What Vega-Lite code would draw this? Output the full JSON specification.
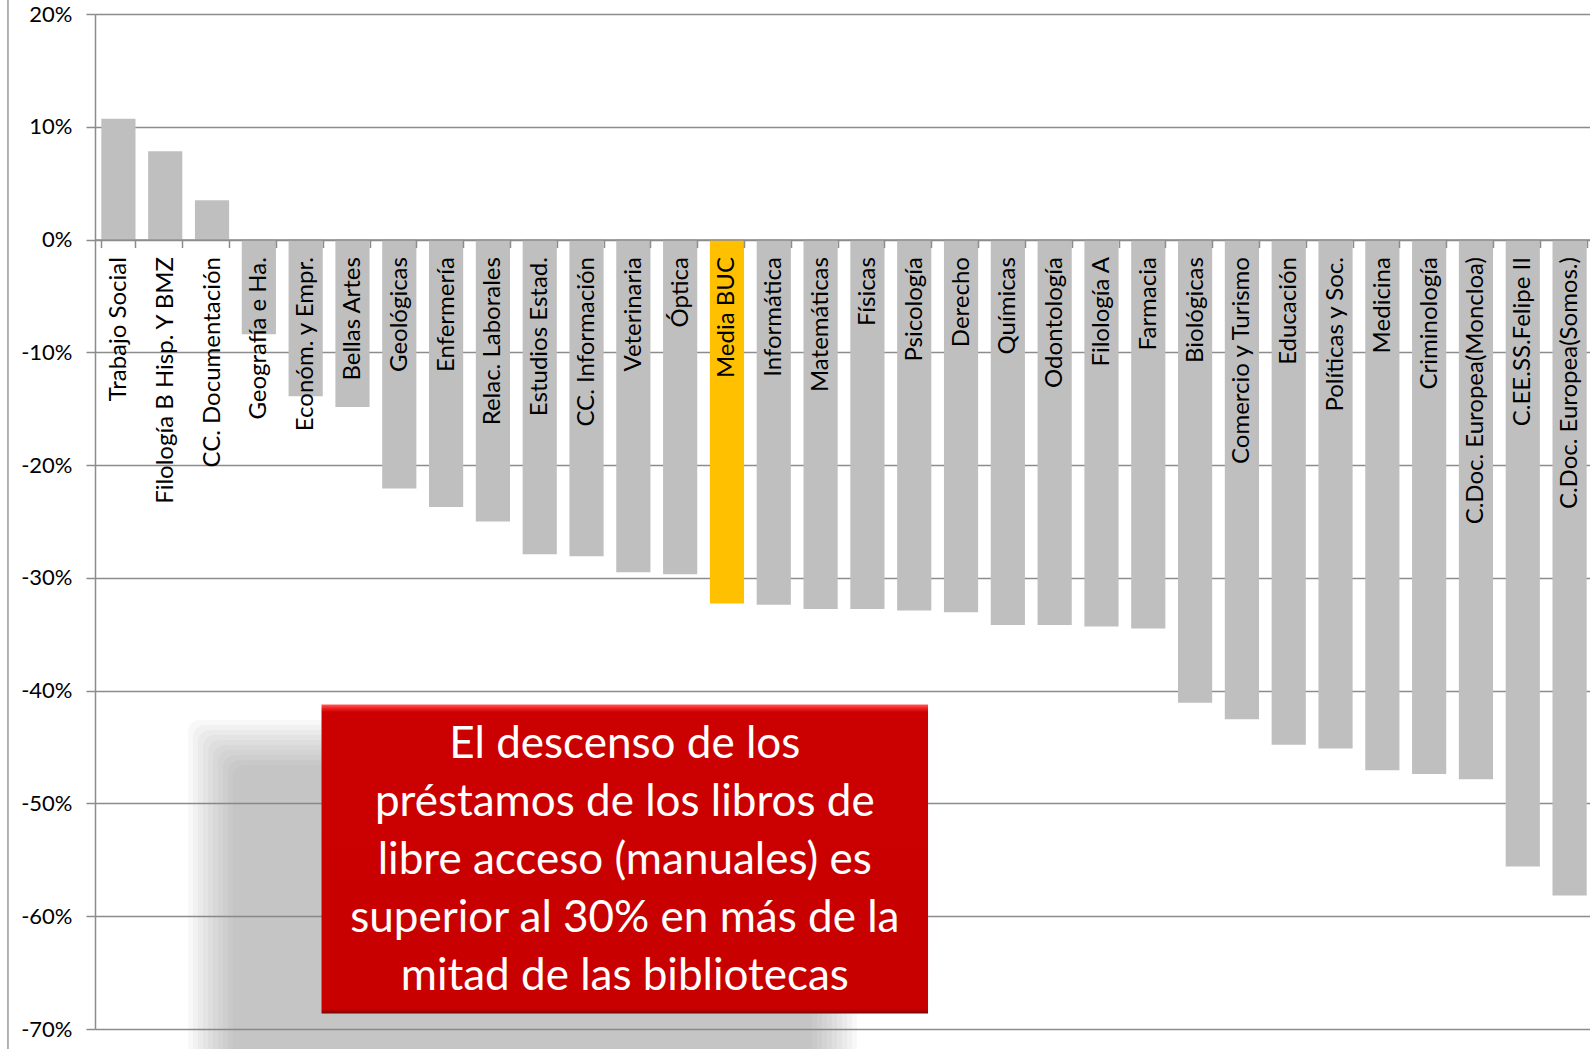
{
  "$schema": "https://vega.github.io/schema/vega-lite/v6.json",
  "width": 1495,
  "height": 1015,
  "autosize": "none",
  "padding": {"left": 95, "top": 14, "right": 0, "bottom": 20},
  "background": "white",
  "config": {"view": {"stroke": null}, "font": "Lato"},
  "datasets": {
    "bars": [
      {"cat": "Trabajo Social", "v": 0.1072},
      {"cat": "Filología B Hisp. Y BMZ", "v": 0.0782},
      {"cat": "CC. Documentación", "v": 0.0348},
      {"cat": "Geografía e Ha.", "v": -0.0840},
      {"cat": "Económ. y Empr.", "v": -0.1390},
      {"cat": "Bellas Artes", "v": -0.1484},
      {"cat": "Geológicas", "v": -0.2208},
      {"cat": "Enfermería", "v": -0.2371},
      {"cat": "Relac. Laborales", "v": -0.2501},
      {"cat": "Estudios Estad.", "v": -0.2791},
      {"cat": "CC. Información", "v": -0.2809},
      {"cat": "Veterinaria", "v": -0.2950},
      {"cat": "Óptica", "v": -0.2968},
      {"cat": "Media BUC", "v": -0.3228},
      {"cat": "Informática", "v": -0.3239},
      {"cat": "Matemáticas", "v": -0.3275},
      {"cat": "Físicas", "v": -0.3275},
      {"cat": "Psicología", "v": -0.3290},
      {"cat": "Derecho", "v": -0.3305},
      {"cat": "Químicas", "v": -0.3417},
      {"cat": "Odontología", "v": -0.3417},
      {"cat": "Filología A", "v": -0.3432},
      {"cat": "Farmacia", "v": -0.3449},
      {"cat": "Biológicas", "v": -0.4108},
      {"cat": "Comercio y Turismo", "v": -0.4253},
      {"cat": "Educación", "v": -0.4480},
      {"cat": "Políticas y Soc.", "v": -0.4513},
      {"cat": "Medicina", "v": -0.4706},
      {"cat": "Criminología", "v": -0.4738},
      {"cat": "C.Doc. Europea(Moncloa)", "v": -0.4785},
      {"cat": "C.EE.SS.Felipe II", "v": -0.5560},
      {"cat": "C.Doc. Europea(Somos.)", "v": -0.5817}
    ]
  },
  "layer": [
    {
      "data": {"name": "bars"},
      "mark": {"type": "bar"},
      "encoding": {
        "x": {
          "field": "cat", "type": "nominal", "sort": null,
          "scale": {"range": [0, 1498], "paddingInner": 0.27, "paddingOuter": 0.135},
          "axis": {
            "orient": "bottom", "offset": -789.44, "title": null,
            "tickBand": "extent", "tickSize": 8, "tickColor": "#8c8c8c", "tickWidth": 1.5,
            "domainColor": "#8c8c8c", "domainWidth": 1.5,
            "labelAngle": -90, "labelPadding": 9, "labelFontSize": 24, "labelColor": "#000000",
            "labelFont": "Lato", "labelLimit": 0, "grid": false, "zindex": 1
          }
        },
        "y": {
          "field": "v", "type": "quantitative",
          "scale": {"domain": [-0.7, 0.2], "nice": false, "zero": true},
          "axis": {
            "title": null, "values": [-0.7, -0.6, -0.5, -0.4, -0.3, -0.2, -0.1, 0, 0.1, 0.2],
            "labelExpr": "round(datum.value*100) + '%'",
            "grid": true, "gridColor": "#8c8c8c", "gridWidth": 1.5,
            "domainColor": "#8c8c8c", "domainWidth": 1.5,
            "tickColor": "#8c8c8c", "tickWidth": 1.5, "tickSize": 9,
            "labelPadding": 14, "labelFontSize": 22, "labelColor": "#000000", "labelFont": "Lato"
          }
        },
        "color": {
          "condition": {"test": "datum.cat === 'Media BUC'", "value": "#FFC000"},
          "value": "#BFBFBF"
        }
      }
    },
    {
      "data": {"values": [{}]},
      "layer": [
        {
          "mark": {"type": "rule", "color": "#9a9a9a", "strokeWidth": 1.5},
          "encoding": {
            "x": {"datum": -1.859, "type": "quantitative", "scale": {"domain": [0, 32], "range": [0, 1498], "nice": false, "zero": false}, "axis": null},
            "y": {"datum": 0.25, "type": "quantitative", "scale": {"domain": [-0.7, 0.2], "nice": false}, "title": null},
            "y2": {"datum": -0.76}
          }
        },
        {"mark": {"type": "rect", "color": "#808080", "opacity": 0.06, "cornerRadius": 12},
         "encoding": {"x": {"datum": 1.9867, "type": "quantitative", "axis": null}, "x2": {"datum": 16.278}, "y": {"datum": -0.4260, "type": "quantitative", "title": null}, "y2": {"datum": -0.76}}},
        {"mark": {"type": "rect", "color": "#808080", "opacity": 0.06, "cornerRadius": 12},
         "encoding": {"x": {"datum": 2.0935, "type": "quantitative", "axis": null}, "x2": {"datum": 16.171}, "y": {"datum": -0.4304, "type": "quantitative", "title": null}, "y2": {"datum": -0.76}}},
        {"mark": {"type": "rect", "color": "#808080", "opacity": 0.06, "cornerRadius": 12},
         "encoding": {"x": {"datum": 2.2003, "type": "quantitative", "axis": null}, "x2": {"datum": 16.064}, "y": {"datum": -0.4349, "type": "quantitative", "title": null}, "y2": {"datum": -0.76}}},
        {"mark": {"type": "rect", "color": "#808080", "opacity": 0.06, "cornerRadius": 12},
         "encoding": {"x": {"datum": 2.3071, "type": "quantitative", "axis": null}, "x2": {"datum": 15.957}, "y": {"datum": -0.4393, "type": "quantitative", "title": null}, "y2": {"datum": -0.76}}},
        {"mark": {"type": "rect", "color": "#808080", "opacity": 0.06, "cornerRadius": 12},
         "encoding": {"x": {"datum": 2.4139, "type": "quantitative", "axis": null}, "x2": {"datum": 15.850}, "y": {"datum": -0.4437, "type": "quantitative", "title": null}, "y2": {"datum": -0.76}}},
        {"mark": {"type": "rect", "color": "#808080", "opacity": 0.06, "cornerRadius": 12},
         "encoding": {"x": {"datum": 2.5207, "type": "quantitative", "axis": null}, "x2": {"datum": 15.744}, "y": {"datum": -0.4482, "type": "quantitative", "title": null}, "y2": {"datum": -0.76}}},
        {"mark": {"type": "rect", "color": "#808080", "opacity": 0.06, "cornerRadius": 12},
         "encoding": {"x": {"datum": 2.6275, "type": "quantitative", "axis": null}, "x2": {"datum": 15.637}, "y": {"datum": -0.4526, "type": "quantitative", "title": null}, "y2": {"datum": -0.76}}},
        {"mark": {"type": "rect", "color": "#808080", "opacity": 0.06, "cornerRadius": 12},
         "encoding": {"x": {"datum": 2.7343, "type": "quantitative", "axis": null}, "x2": {"datum": 15.530}, "y": {"datum": -0.4570, "type": "quantitative", "title": null}, "y2": {"datum": -0.76}}},
        {"mark": {"type": "rect", "color": "#808080", "opacity": 0.06, "cornerRadius": 12},
         "encoding": {"x": {"datum": 2.8411, "type": "quantitative", "axis": null}, "x2": {"datum": 15.423}, "y": {"datum": -0.4615, "type": "quantitative", "title": null}, "y2": {"datum": -0.76}}},
        {"mark": {"type": "rect", "color": "#808080", "opacity": 0.06, "cornerRadius": 12},
         "encoding": {"x": {"datum": 2.9479, "type": "quantitative", "axis": null}, "x2": {"datum": 15.316}, "y": {"datum": -0.4659, "type": "quantitative", "title": null}, "y2": {"datum": -0.76}}},
        {
          "mark": {
            "type": "rect",
            "fill": {
              "gradient": "linear", "x1": 0, "y1": 0, "x2": 0, "y2": 1,
              "stops": [
                {"offset": 0, "color": "#ff5a5a"},
                {"offset": 0.012, "color": "#f02020"},
                {"offset": 0.025, "color": "#cc0000"},
                {"offset": 0.985, "color": "#c80000"},
                {"offset": 1, "color": "#7a0000"}
              ]
            }
          },
          "encoding": {
            "x": {"datum": 4.839, "type": "quantitative", "axis": null},
            "x2": {"datum": 17.795},
            "y": {"datum": -0.4123, "type": "quantitative", "title": null},
            "y2": {"datum": -0.6863}
          }
        },
        {
          "mark": {
            "type": "text", "color": "#ffffff", "font": "Lato", "fontSize": 44,
            "lineHeight": 58, "align": "center", "baseline": "middle"
          },
          "encoding": {
            "x": {"datum": 11.317, "type": "quantitative", "axis": null},
            "y": {"datum": -0.4482, "type": "quantitative", "title": null},
            "text": {"value": ["El descenso de los", "préstamos de los libros de", "libre acceso (manuales) es", "superior al 30% en más de la", "mitad de las bibliotecas"]}
          }
        }
      ]
    }
  ],
  "resolve": {"scale": {"x": "independent"}, "axis": {"x": "independent"}}
}
